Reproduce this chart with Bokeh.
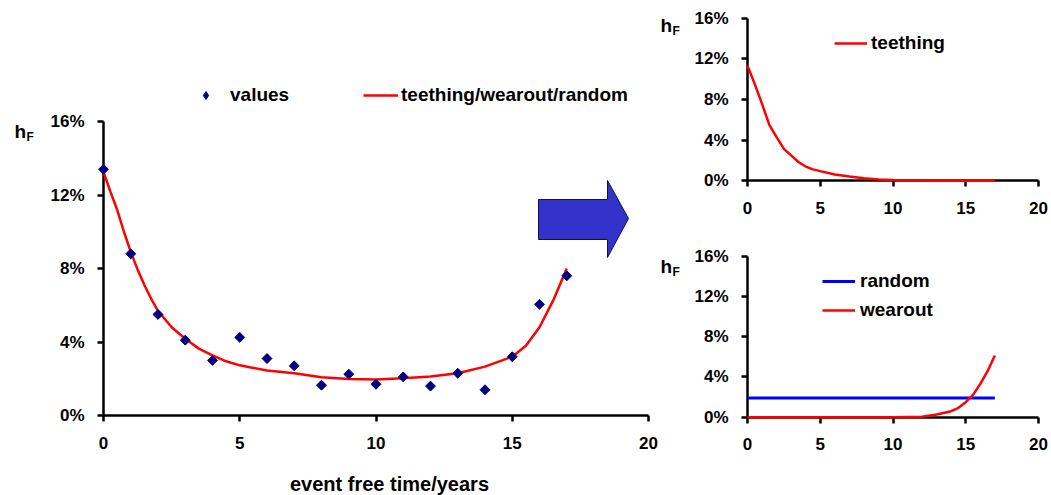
import math

from bokeh.plotting import figure
from bokeh.layouts import row, column
from bokeh.models import (Range1d, FixedTicker, PrintfTickFormatter, Legend,
                          LegendItem, Label)
from bokeh.embed import file_html
from bokeh.resources import INLINE

# ---- data: hazard rate h_F (%) over event free time (years) ----
years = list(range(18))
values = [13.4, 8.8, 5.5, 4.1, 3.0, 4.25, 3.1, 2.7, 1.65, 2.25,
          1.7, 2.1, 1.6, 2.3, 1.4, 3.2, 6.05, 7.6]

fit_t = [0, 0.25, 0.5, 0.75, 1, 1.25, 1.5, 1.75, 2, 2.5, 3, 3.5, 4, 4.5,
         5, 6, 7, 8, 9, 10, 11, 12, 13, 14, 15, 15.5, 16, 16.5, 17]
fit_v = [13.25, 12.2, 11.2, 10.0, 8.9, 7.95, 7.1, 6.35, 5.7, 4.8, 4.18,
         3.64, 3.27, 2.95, 2.73, 2.45, 2.3, 2.08, 1.99, 1.96, 2.03, 2.12,
         2.3, 2.66, 3.2, 3.8, 4.8, 6.25, 8.0]

teething_t = [0, 0.5, 1, 1.5, 2, 2.5, 3, 3.5, 4, 4.5, 5, 6, 7, 8, 9, 10,
              11, 12, 13, 14, 15, 16, 17]
teething_v = [11.3, 9.5, 7.56, 5.5, 4.3, 3.14, 2.5, 1.85, 1.4, 1.12, 0.95,
              0.62, 0.43, 0.26, 0.13, 0.07, 0.03, 0.02, 0.01, 0, 0, 0, 0]

wearout_t = [0, 5, 10, 12, 13, 14, 14.5, 15, 15.5, 16, 16.5, 17]
wearout_v = [0, 0, 0, 0.05, 0.26, 0.6, 0.93, 1.49, 2.22, 3.31, 4.57, 6.13]

random_t = [0, 17]
random_v = [1.9, 1.9]

x_ticks = [0, 5, 10, 15, 20]
y_ticks = [0, 4, 8, 12, 16]

FONT = "Liberation Sans"
RED = "#ff0000"
BLUE = "#0000ff"
NAVY = "#000080"
ARROW = "#3333cc"

X_MAX, Y_MAX = 20, 16


class Canvas:
    """Canvas size and the pixel columns/rows where the axes sit."""

    def __init__(self, width, height, x0, x1, y_top, y_bot):
        self.width, self.height = width, height
        self.x0, self.x1, self.y_top, self.y_bot = x0, x1, y_top, y_bot

    def at(self, px, py):
        x = (px - self.x0) / (self.x1 - self.x0) * X_MAX
        y = (self.y_bot - py) / (self.y_bot - self.y_top) * Y_MAX
        return x, y

    def loc(self, px_left, py_bottom):
        return (px_left, self.height - py_bottom)


def make_fig(cv):
    xs, _ = cv.at(0, 0)
    xe, _ = cv.at(cv.width, 0)
    _, ys = cv.at(0, cv.height)
    _, ye = cv.at(0, 0)
    p = figure(width=cv.width, height=cv.height, title=None,
               x_range=Range1d(xs, xe), y_range=Range1d(ys, ye),
               output_backend="svg", toolbar_location=None,
               min_border=0, min_border_left=0, min_border_right=0,
               min_border_top=0, min_border_bottom=0)
    p.outline_line_color = None
    p.grid.visible = False
    p.background_fill_color = "white"
    p.border_fill_color = "white"
    for ax in (p.xaxis[0], p.yaxis[0]):
        ax.fixed_location = 0
        ax.axis_line_width = 2.5
        ax.axis_line_color = "black"
        ax.major_tick_line_width = 2.5
        ax.major_tick_line_color = "black"
        ax.major_tick_out = 6
        ax.major_tick_in = 0
        ax.minor_tick_line_color = None
        ax.major_label_text_font = FONT
        ax.major_label_text_font_style = "bold"
        ax.major_label_text_font_size = "17px"
        ax.major_label_text_color = "black"
    p.xaxis.bounds = (0, X_MAX)
    p.yaxis.bounds = (0, Y_MAX)
    p.xaxis.ticker = FixedTicker(ticks=x_ticks)
    p.yaxis.ticker = FixedTicker(ticks=y_ticks)
    p.yaxis.formatter = PrintfTickFormatter(format="%d%%")
    p.xaxis.major_label_standoff = 15
    p.yaxis.major_label_standoff = 13
    return p


def add_text(p, cv, px, py, text, size, align="left", baseline="alphabetic"):
    x, y = cv.at(px, py)
    p.add_layout(Label(x=x, y=y, text=text, text_font=FONT,
                       text_font_style="bold", text_font_size=size,
                       text_color="black", text_align=align,
                       text_baseline=baseline))


def add_hf(p, cv, px, py):
    add_text(p, cv, px, py, "h", "19px")
    add_text(p, cv, px + 12, py + 5, "F", "12px")


def make_legend(items, location, glyph_width, standoff, orientation="vertical",
                spacing=0):
    return Legend(items=items, location=location, orientation=orientation,
                  glyph_width=glyph_width, glyph_height=20,
                  label_standoff=standoff, label_height=20, spacing=spacing,
                  padding=0, margin=0, border_line_color=None,
                  background_fill_alpha=0,
                  label_text_font=FONT, label_text_font_style="bold",
                  label_text_font_size="19px", label_text_color="black")


# ---- left: observed values with combined teething/wearout/random fit ----
cl = Canvas(660, 495, 103, 648, 121, 415)
left = make_fig(cl)

fit = left.line(fit_t, fit_v, line_color=RED, line_width=2.5, level="overlay")
# narrow diamonds (also the legend swatch), capped by wider rotated squares
pts_key = left.scatter(years, values, marker="diamond", size=9,
                       fill_color=NAVY, line_color=NAVY, level="overlay")
pts = left.scatter(years, values, marker="square", size=7, angle=math.pi / 4,
                   fill_color=NAVY, line_color=NAVY, level="overlay")

# block arrow pointing to the decomposition panels
arrow_px = [(538, 199), (607, 199), (607, 180), (628, 218),
            (607, 257), (607, 239), (538, 239)]
ax_, ay_ = zip(*[cl.at(px, py) for px, py in arrow_px])
left.patch(list(ax_), list(ay_), fill_color=ARROW, line_color="#10104a",
           line_width=1)

left.add_layout(make_legend([LegendItem(label="values", renderers=[pts_key])],
                            cl.loc(188, 106), 35, 7))
left.add_layout(make_legend([LegendItem(label="teething/wearout/random",
                                        renderers=[fit])],
                            cl.loc(363, 106), 35, 3))
add_text(left, cl, 389, 483, "event free time/years", "20px",
         align="center", baseline="middle")
add_hf(left, cl, 14, 131)

# ---- top right: teething component ----
ct = Canvas(391, 240, 87, 378, 17.5, 180.3)
top = make_fig(ct)
teeth = top.line(teething_t, teething_v, line_color=RED, line_width=2.5,
                 level="overlay")
top.add_layout(make_legend([LegendItem(label="teething", renderers=[teeth])],
                           ct.loc(174, 54), 33, 4))
add_hf(top, ct, 0, 25)

# ---- bottom right: random and wearout components ----
cb = Canvas(391, 255, 87, 378, 15.7, 176.7)
bottom = make_fig(cb)
rand = bottom.line(random_t, random_v, line_color=BLUE, line_width=3,
                   level="overlay")
wear = bottom.line(wearout_t, wearout_v, line_color=RED, line_width=2.5,
                   level="overlay")
bottom.add_layout(make_legend([LegendItem(label="random", renderers=[rand]),
                               LegendItem(label="wearout", renderers=[wear])],
                              cb.loc(162, 81), 33, 5, spacing=7))
add_hf(bottom, cb, 0, 26)

page = row(left, column(top, bottom))
open("out.html", "w").write(file_html(page, INLINE))
